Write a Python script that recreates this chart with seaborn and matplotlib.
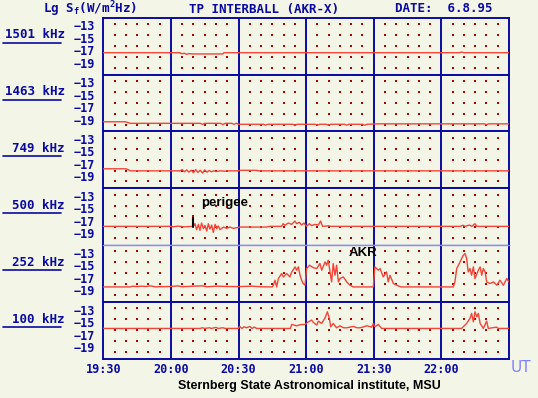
import matplotlib
matplotlib.use('Agg')
import numpy as np
import matplotlib.pyplot as plt
import seaborn as sns

# panel labels, top to bottom
freqs = ['1501 kHz', '1463 kHz', '749 kHz', '500 kHz', '252 kHz', '100 kHz']

# time in minutes after 19:30 UT, level Lg S_f
t1 = [0, 34, 34.5, 36, 37, 38, 40, 45, 50, 53, 53.5, 158, 159, 160, 180]
v1 = [-16.6, -16.6, -16.75, -16.7, -16.85, -16.75, -16.8, -16.8, -16.8, -16.8, -16.6, -16.6, -16.5, -16.6, -16.6]

t2 = [0, 10, 11, 12, 20, 30, 43, 44, 45, 52, 53, 54, 57, 58, 59, 60, 71, 72, 73, 84, 85, 86,
      94, 95, 96, 99, 100, 101, 107, 108, 109, 115, 116, 117, 122, 150, 169, 170, 171, 180]
v2 = [-18.55, -18.55, -18.7, -18.8, -18.8, -18.8, -18.8, -18.95, -18.8, -18.8, -19.0, -18.8, -18.8, -18.95,
      -18.8, -18.95, -18.95, -19.1, -18.95, -18.95, -19.1, -18.95, -18.95, -19.1, -18.95, -18.95, -19.1,
      -18.95, -18.95, -19.1, -18.95, -18.95, -19.1, -18.95, -18.88, -18.88, -18.88, -19.0, -18.88, -18.88]

t3 = [0, 10, 11, 12, 34, 35, 36, 37, 38, 39, 40, 41, 42, 43, 44, 45, 46, 47, 48, 49, 50, 52, 54, 55,
      60, 61, 68, 69, 180]
v3 = [-16.97, -16.97, -17.1, -17.3, -17.3, -17.1, -17.45, -17.15, -17.5, -17.2, -17.6, -17.1, -17.55,
      -17.2, -17.65, -17.15, -17.5, -17.25, -17.45, -17.3, -17.4, -17.3, -17.35, -17.3,
      -17.3, -17.22, -17.22, -17.3, -17.3]

t4 = [0, 30, 31, 33, 36, 39.9, 40.7, 41.4, 42.2, 42.9, 43.6, 44.4, 45.1, 45.9, 46.6, 47.3, 48.1, 48.8,
      49.6, 50.3, 51.0, 51.8, 53.3, 54.7, 56.2, 57.7, 59.2, 60.7, 72.5, 73.5, 79.1, 79.8, 80.6, 81.4,
      82.1, 83.6, 85.0, 85.8, 87.0, 88.0, 89.0, 90.2, 91.4, 92.4, 93.9, 95.4, 96.4, 97.3, 100, 101,
      158.3, 159.5, 160.5, 162.5, 163.5, 164.9, 165.7, 180]
v4 = [-17.08, -17.08, -17.15, -17.05, -17.15, -17.08, -16.65, -17.61, -16.76, -17.72, -16.55, -17.45,
      -16.92, -17.83, -16.65, -17.51, -16.87, -18.04, -16.76, -17.45, -17.03, -17.61, -17.19, -17.4,
      -17.19, -17.4, -17.29, -17.19, -17.19, -17.08, -17.08, -16.65, -16.92, -16.7, -16.55, -16.76,
      -16.23, -16.65, -16.44, -16.87, -16.55, -17.08, -16.65, -16.97, -16.76, -16.87, -16.23, -17.08,
      -17.0, -17.08, -17.08, -16.9, -17.08, -16.87, -17.08, -16.65, -17.08, -17.08]

t5 = [0, 12, 13, 15, 17, 19, 21, 23, 30, 33, 35, 40, 44, 46, 50, 55, 60, 66, 70, 75,
      75.4, 76.2, 76.9, 77.7, 79.1, 79.9, 81.4, 82.8, 83.6, 85.1, 85.8, 86.5, 87.3, 88.0, 88.7, 89.5,
      90.2, 91.5, 93.2, 94.7, 96.1, 96.9, 98.4, 99.1, 99.8, 100.6, 101.3, 102.0, 102.8, 103.5, 104.3,
      105.0, 106.5, 108.0, 109.5, 110.9, 119.8, 120.5, 122.0, 122.8, 124.2, 125.7, 126.4, 127.2, 128.7,
      130.2, 132, 155.3, 156.0, 156.8, 158.3, 159.7, 160.5, 161.2, 161.9, 162.7, 163.4, 164.2, 164.9,
      166.4, 167.2, 167.9, 168.6, 169.4, 170.1, 171.6, 173.1, 174.6, 176.0, 177.5, 179.0, 180]
v5 = [-17.67, -17.67, -17.55, -17.62, -17.55, -17.6, -17.5, -17.65, -17.6, -17.5, -17.65, -17.55,
      -17.5, -17.65, -17.55, -17.6, -17.62, -17.55, -17.65, -17.67,
      -17.4, -16.6, -17.67, -16.33, -15.53, -16.07, -15.53, -16.07, -15.27, -14.47, -15.0, -14.47,
      -15.8, -16.6, -17.13, -17.4, -14.73, -14.2, -14.6, -14.73, -13.93, -15.0, -13.67, -14.2, -13.4,
      -15.27, -16.87, -13.93, -15.8, -14.2, -16.87, -16.33, -16.07, -16.87, -17.4, -17.67, -17.67,
      -14.47, -15.0, -14.73, -16.07, -15.27, -16.87, -15.8, -17.13, -17.4, -17.67, -17.67, -16.87,
      -14.73, -13.67, -12.6, -12.33, -13.13, -15.27, -14.73, -15.8, -14.47, -16.33, -15.0, -14.47,
      -15.8, -14.73, -15.27, -16.87, -17.13, -16.87, -17.4, -16.6, -17.4, -16.33, -16.9]

t6 = [0, 43, 44, 45, 47, 48, 50, 51, 53, 54, 60, 60.5, 61.5, 62.5, 63.5, 65, 66, 67, 68, 83.0,
      83.6, 85.8, 87.5, 89.5, 91.0, 92.4, 93.2, 94.7, 95.4, 96.9, 98.4, 99.4, 100.3, 100.9, 102.0,
      103.5, 105.0, 106.5, 108.0, 110.9, 112.5, 113.9, 115.5, 116.9, 119.1, 119.8, 120.5, 122.0,
      123.5, 159.0, 159.7, 161.2, 162.7, 163.4, 164.2, 164.9, 165.7, 166.4, 167.2, 167.9, 168.6,
      170.1, 170.8, 174.5, 175.2, 180]
v6 = [-15.21, -15.21, -15.1, -15.21, -15.1, -15.21, -15.05, -15.21, -15.1, -15.21, -15.21, -14.9,
      -15.21, -14.95, -15.1, -14.9, -15.21, -15.0, -15.21, -15.21,
      -14.57, -14.79, -14.6, -14.57, -14.15, -13.88, -14.25, -14.68, -14.04, -14.41, -13.51, -12.55,
      -13.61, -14.95, -14.41, -15.11, -14.79, -15.1, -15.11, -14.89, -15.1, -15.11, -14.95, -14.79,
      -15.0, -14.41, -14.95, -14.57, -15.21, -15.21, -14.95, -14.41, -13.61, -12.81, -14.15, -12.55,
      -13.35, -12.81, -14.41, -14.79, -15.21, -14.04, -15.21, -15.0, -15.21, -15.21]

times = [t1, t2, t3, t4, t5, t6]
levels = [v1, v2, v3, v4, v5, v6]

yticks = [-13, -15, -17, -19]
xticks = [0, 30, 60, 90, 120, 150]
xticklabels = ['19:30', '20:00', '20:30', '21:00', '21:30', '22:00']
perigee_t = 39.7

sns.set_style('white')
navy = '#0a0aa0'
light = '#8c8cf0'
red = '#f2453a'
bg = '#f3f5e7'
mono = 'DejaVu Sans Mono'

W, H = 538, 398
fig = plt.figure(figsize=(W / 100, H / 100), dpi=100, facecolor=bg)

left, right, top, bottom = 103.3, 509, 17.7, 359
ph = (bottom - top) / 6

def ftxt(x, y, s, **kw):
    fig.text(x / W, 1 - y / H, s, **kw)

dot_x = [m for m in range(5, 180, 5) if m % 30]
dot_y = [-12.0, -13.75, -15.5, -17.25, -19.0]
gx, gy = np.meshgrid(dot_x, dot_y)

for i in range(6):
    y0 = top + i * ph
    ax = fig.add_axes([left / W, 1 - (y0 + ph) / H, (right - left) / W, ph / H])
    ax.set_facecolor(bg)
    ax.scatter(gx.ravel(), gy.ravel(), s=1.0, marker='s', color='#b00000', linewidths=0, zorder=1)
    for xv in xticks[1:]:
        ax.axvline(xv, color=navy, lw=1.4, zorder=2)
    sns.lineplot(x=times[i], y=levels[i], ax=ax, color=red, lw=1.0, estimator=None, sort=False, zorder=3)
    ax.set_xlim(0, 180)
    ax.set_ylim(-20.1, -11.0)
    ax.set_yticks(yticks)
    ax.set_yticklabels(['\u2212' + str(-v) for v in yticks], fontfamily=mono, fontweight='bold',
                       fontsize=8.5, color=navy, va='baseline')
    ax.tick_params(axis='y', direction='out', length=6, width=1, color=navy, pad=0)
    ax.set_xticks(xticks)
    if i == 5:
        ax.set_xticklabels(xticklabels, fontfamily=mono, fontweight='bold', fontsize=8.5, color=navy)
        ax.tick_params(axis='x', length=0, pad=3)
    else:
        ax.set_xticklabels([])
        ax.tick_params(axis='x', length=0)
    ax.set_xlabel('')
    ax.set_ylabel('')
    for sp in ax.spines.values():
        sp.set_color(navy)
        sp.set_linewidth(1.4)
    if i == 3:
        ax.spines['bottom'].set_color(light)
        ax.spines['bottom'].set_linewidth(1.0)
        ax.vlines(perigee_t, -17.2, -15.6, color='black', lw=1.5, zorder=4)
        ax.text(perigee_t + 14, -13.3, 'perigee', fontsize=9.5, fontweight='bold', ha='center',
                va='center', color='black', family='Liberation Sans')
    if i == 4:
        ax.spines['top'].set_color(light)
        ax.spines['top'].set_linewidth(1.0)
        ax.text(115, -12.3, 'AKR', fontsize=9.5, fontweight='bold', ha='center',
                va='center', color='black', family='Liberation Sans')
    # frequency label with underline
    ftxt(65, y0 + 17, freqs[i], fontfamily=mono, fontweight='bold', fontsize=9, color=navy,
         ha='right', va='center')
    fig.add_artist(plt.Line2D([3 / W, 61 / W], [1 - (y0 + 25) / H] * 2, color=navy, lw=1.2))

ftxt(43, 9, r'Lg S$_\mathregular{f}$(W/m$^\mathregular{2}$Hz)', fontfamily=mono, fontweight='bold',
     fontsize=9, color=navy, ha='left', va='center')
ftxt(264, 9, 'TP INTERBALL (AKR-X)', fontfamily=mono, fontweight='bold', fontsize=9, color=navy,
     ha='center', va='center')
ftxt(395, 9, 'DATE:  6.8.95', fontfamily=mono, fontweight='bold', fontsize=9, color=navy,
     ha='left', va='center')
ftxt(521, 368, 'UT', fontfamily='DejaVu Sans', fontsize=11, color='#8080ff', ha='center', va='center')
ftxt(309, 385.5, 'Sternberg State Astronomical institute, MSU', fontfamily='Liberation Sans',
     fontweight='bold', fontsize=9, color='black', ha='center', va='center')

fig.savefig('out.png', dpi=100, facecolor=bg)
